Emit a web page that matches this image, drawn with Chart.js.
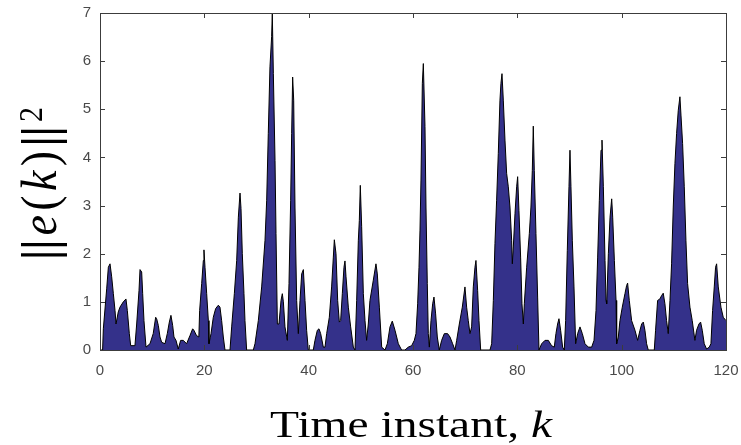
<!DOCTYPE html>
<html>
<head>
<meta charset="utf-8">
<script src="https://cdn.jsdelivr.net/npm/chart.js@4"></script>
<style>
  html, body { margin: 0; padding: 0; background: #fff; }
  #wrap { width: 741px; height: 445px; }
</style>
</head>
<body>
<div id="wrap"><canvas id="canvas" width="741" height="445"></canvas></div>
<script>
// time instants
const xs = [
  0, 0.5, 0.64, 1.28, 1.6, 1.92, 2.24, 2.56, 2.88, 3.07,
  3.5, 3.83, 4.47, 4.98, 5.24, 5.62, 5.88, 6.7, 7.03, 7.48,
  7.67, 7.99, 8.18, 8.43, 8.82, 9.58, 10.2, 10.67, 10.86, 11.18,
  11.5, 11.82, 12.46, 12.9, 13.29, 13.6, 13.93, 14.18, 14.57, 15.0,
  15.46, 15.97, 16.6, 17.25, 17.76, 18.0, 18.5, 18.95, 19.1, 19.49,
  19.81, 19.93, 20.13, 20.45, 20.77, 20.89, 21.28, 21.72, 22.17, 22.68,
  23.0, 23.32, 23.64, 23.96, 24.92, 25.24, 25.75, 26.2, 26.52, 26.84,
  27.03, 27.28, 27.6, 27.79, 28.11, 29.39, 29.71, 30.35, 30.99, 31.63,
  31.95, 32.26, 32.58, 32.9, 33.03, 33.23, 33.55, 33.74, 34.0, 34.31,
  34.7, 34.95, 35.15, 35.46, 35.91, 36.23, 36.55, 36.74, 36.93, 37.13,
  37.38, 37.7, 38.02, 38.34, 38.66, 38.98, 39.3, 39.61, 39.93, 40.89,
  41.21, 41.66, 41.98, 42.3, 42.81, 43.13, 43.45, 43.96, 44.4, 44.73,
  44.92, 45.24, 45.56, 45.88, 46.13, 46.45, 46.77, 46.96, 47.16, 47.6,
  48.05, 48.56, 48.88, 49.2, 49.52, 49.71, 49.9, 50.16, 50.48, 50.8,
  51.11, 51.43, 51.75, 52.39, 52.9, 53.16, 53.55, 54.0, 54.63, 55.08,
  55.59, 56.03, 56.55, 57.19, 57.82, 58.46, 59.1, 59.74, 60.25, 60.57,
  60.89, 61.15, 61.34, 61.53, 61.79, 61.98, 62.3, 62.49, 62.74, 62.93,
  63.13, 63.45, 63.77, 64.02, 64.34, 64.66, 65.04, 65.49, 66.0, 66.64,
  67.09, 67.6, 68.05, 68.37, 68.88, 69.45, 69.96, 70.28, 70.6, 70.92,
  71.24, 71.56, 71.88, 72.07, 72.39, 72.65, 72.97, 74.76, 75.08, 75.4,
  75.71, 76.03, 76.35, 76.67, 76.86, 77.06, 77.31, 77.63, 77.95, 78.27,
  78.59, 78.91, 79.04, 79.23, 79.55, 79.87, 80.06, 80.31, 80.63, 80.89,
  81.15, 81.34, 81.79, 82.3, 82.61, 82.87, 83.06, 83.25, 83.57, 83.89,
  84.15, 84.66, 85.3, 85.94, 86.57, 87.08, 87.4, 87.72, 87.98, 88.3,
  88.68, 89.0, 89.26, 89.58, 89.9, 90.09, 90.28, 90.54, 90.86, 91.18,
  91.56, 92.01, 92.46, 92.97, 93.61, 94.25, 94.7, 95.08, 95.4, 95.72,
  96.04, 96.23, 96.49, 96.81, 97.0, 97.13, 97.45, 97.77, 98.09, 98.28,
  98.6, 98.92, 99.04, 99.36, 99.67, 100.12, 100.63, 100.95, 101.14, 101.46,
  101.91, 102.55, 103.06, 103.51, 103.83, 104.15, 104.46, 104.78, 105.1, 106.25,
  106.5, 106.89, 107.33, 107.65, 107.97, 108.29, 108.61, 108.93, 109.26, 109.57,
  109.89, 110.21, 110.53, 110.85, 111.17, 111.37, 111.68, 112.0, 112.32, 112.64,
  113.09, 113.53, 114.04, 114.36, 114.81, 115.13, 115.45, 115.83, 116.28, 116.79,
  117.11, 117.43, 117.75, 118.0, 118.2, 118.52, 119.03, 119.47, 120
];

// ||e(k)||^2 at those instants
const ys = [
  0, 0, 0.44, 1.27, 1.72, 1.79, 1.52, 1.17, 0.82, 0.54,
  0.79, 0.89, 1.0, 1.06, 0.82, 0.34, 0.09, 0.09, 0.54, 1.24,
  1.67, 1.62, 1.17, 0.61, 0.06, 0.13, 0.34, 0.68, 0.65, 0.51,
  0.27, 0.16, 0.13, 0.34, 0.58, 0.72, 0.51, 0.27, 0.2, 0.02,
  0.2, 0.2, 0.13, 0.3, 0.44, 0.41, 0.3, 0.27, 0.82, 1.38,
  1.86, 2.08, 1.72, 1.17, 0.61, 0.13, 0.34, 0.68, 0.86, 0.93,
  0.89, 0.61, 0.27, 0, 0, 0.48, 1.17, 1.86, 2.76, 3.26,
  2.94, 2.0, 1.17, 0.61, 0, 0, 0.13, 0.61, 1.31, 2.28,
  3.11, 4.5, 5.88, 6.51, 7.0, 5.74, 3.94, 2.42, 0.54, 0.54,
  1.03, 1.17, 1.0, 0.48, 0.2, 1.38, 3.11, 4.5, 5.67, 5.19,
  2.97, 1.03, 0.34, 1.03, 1.58, 1.67, 1.03, 0.41, 0, 0,
  0.2, 0.41, 0.44, 0.34, 0.06, 0.06, 0.34, 0.68, 1.31, 1.93,
  2.29, 2.0, 1.03, 0.58, 0.61, 1.17, 1.72, 1.85, 1.52, 0.89,
  0.48, 0.06, 0, 1.03, 2.28, 2.69, 3.42, 2.56, 1.17, 0.61,
  0.2, 0.54, 1.03, 1.45, 1.79, 1.58, 0.89, 0.06, 0, 0.13,
  0.48, 0.6, 0.41, 0.13, 0, 0, 0.06, 0.09, 0.2, 0.34,
  0.96, 1.72, 2.49, 3.53, 5.54, 5.95, 4.64, 2.97, 1.38, 0.34,
  0.06, 0.61, 0.96, 1.1, 0.75, 0.27, 0, 0.2, 0.34, 0.34,
  0.27, 0.13, 0, 0.2, 0.54, 0.89, 1.31, 0.89, 0.61, 0.34,
  0.48, 1.31, 1.72, 1.86, 1.24, 0.61, 0, 0, 0.13, 1.03,
  2.21, 3.11, 4.08, 5.19, 5.54, 5.74, 5.19, 4.36, 3.67, 3.39,
  2.97, 2.28, 1.79, 2.14, 2.83, 3.39, 3.6, 2.9, 1.93, 0.96,
  0.54, 0.96, 1.72, 2.42, 2.97, 3.73, 4.65, 3.73, 2.42, 1.1,
  0, 0.13, 0.2, 0.2, 0.09, 0.06, 0.34, 0.54, 0.65, 0.41,
  0.06, 0, 0.61, 2.07, 3.39, 4.15, 3.39, 2.28, 1.31, 0.13,
  0.34, 0.48, 0.34, 0.13, 0.06, 0.06, 0.2, 0.82, 1.93, 3.11,
  4.15, 4.36, 3.39, 1.86, 1.03, 0.96, 2.0, 2.76, 3.14, 2.76,
  1.86, 1.03, 0.13, 0.27, 0.61, 0.89, 1.17, 1.34, 1.39, 1.03,
  0.61, 0.41, 0.2, 0.41, 0.54, 0.58, 0.41, 0.13, 0, 0,
  0.41, 1.03, 1.06, 1.13, 1.18, 0.96, 0.61, 0.34, 1.03, 1.79,
  2.97, 3.87, 4.5, 4.98, 5.26, 4.88, 4.29, 3.39, 2.28, 1.38,
  0.89, 0.61, 0.2, 0.41, 0.54, 0.58, 0.41, 0.13, 0.02, 0.06,
  0.13, 0.82, 1.31, 1.72, 1.79, 1.31, 0.89, 0.68, 0.61
];

const xTicks = [0, 20, 40, 60, 80, 100, 120];
const yTicks = [0, 1, 2, 3, 4, 5, 6, 7];

const points = xs.map((x, i) => ({ x: x, y: ys[i] }));

const axisColor = "#3c3c3c";
const tickFont = { family: "Liberation Sans, Arial, sans-serif", size: 15 };

// matlab style box, inward ticks on all four sides, and the two axis titles
const matlabBox = {
  id: "matlabBox",
  afterDatasetsDraw(chart) {
    const ctx = chart.ctx;
    const a = chart.chartArea;
    const sx = chart.scales.x, sy = chart.scales.y;
    ctx.save();
    ctx.strokeStyle = axisColor;
    ctx.lineWidth = 1;
    ctx.beginPath();
    xTicks.forEach(v => {
      const px = Math.round(sx.getPixelForValue(v)) + 0.5;
      ctx.moveTo(px, a.bottom); ctx.lineTo(px, a.bottom - 5);
      ctx.moveTo(px, a.top); ctx.lineTo(px, a.top + 5);
    });
    yTicks.forEach(v => {
      const py = Math.round(sy.getPixelForValue(v)) + 0.5;
      ctx.moveTo(a.left, py); ctx.lineTo(a.left + 5, py);
      ctx.moveTo(a.right, py); ctx.lineTo(a.right - 5, py);
    });
    ctx.stroke();
    ctx.strokeRect(Math.round(a.left) + 0.5, Math.round(a.top) + 0.5,
                   Math.round(a.right - a.left), Math.round(a.bottom - a.top));
    ctx.restore();
  },
  afterDraw(chart) {
    const ctx = chart.ctx;
    const serif = "Liberation Serif, 'Times New Roman', serif";
    ctx.save();
    ctx.fillStyle = "#000";
    ctx.textBaseline = "alphabetic";
    ctx.textAlign = "left";

    // x title: "Time instant, k"
    const xParts = [
      { t: "Time instant, ", f: "38px " + serif },
      { t: "k", f: "italic 38px " + serif }
    ];
    let w = 0;
    xParts.forEach(p => { ctx.font = p.f; p.w = ctx.measureText(p.t).width; w += p.w; });
    ctx.save();
    ctx.translate(411, 437);
    ctx.scale(1.25, 1);
    let cx = -w / 2;
    xParts.forEach(p => { ctx.font = p.f; ctx.fillText(p.t, cx, 0); cx += p.w; });
    ctx.restore();

    // y title: ||e(k)||^2, bars drawn a bit heavier like the math font
    const yParts = [
      { t: "||", f: "bold 46px " + serif, dy: 0 },
      { t: "e", f: "italic 46px " + serif, dy: 0 },
      { t: "(", f: "46px " + serif, dy: 0 },
      { t: "k", f: "italic 46px " + serif, dy: 0 },
      { t: ")", f: "46px " + serif, dy: 0 },
      { t: "||", f: "bold 46px " + serif, dy: 0 },
      { t: "2", f: "30px " + serif, dy: -13 }
    ];
    let yw = 0;
    yParts.forEach(p => { ctx.font = p.f; p.w = ctx.measureText(p.t).width; yw += p.w; });
    const gap = Math.max(0, (153 - yw) / (yParts.length - 1));
    ctx.save();
    ctx.translate(56, 260);
    ctx.rotate(-Math.PI / 2);
    ctx.scale(1, 1.1);
    let cy = 0;
    yParts.forEach(p => { ctx.font = p.f; ctx.fillText(p.t, cy, p.dy); cy += p.w + gap; });
    ctx.restore();

    ctx.restore();
  }
};

const chartConfig = {
  type: "line",
  data: {
    datasets: [{
      data: points,
      fill: "origin",
      backgroundColor: "#34318a",
      borderColor: "#000000",
      borderWidth: 1,
      pointRadius: 0,
      tension: 0
    }]
  },
  options: {
    responsive: false,
    animation: false,
    layout: { padding: { top: 13, right: 15, left: 0, bottom: 0 } },
    plugins: { legend: { display: false }, tooltip: { enabled: false } },
    scales: {
      x: {
        type: "linear",
        min: 0,
        max: 120,
        afterBuildTicks: s => { s.ticks = xTicks.map(v => ({ value: v })); },
        afterFit: s => { s.height = 95; s.paddingLeft = 0; s.paddingRight = 0; },
        grid: { display: false, drawTicks: false },
        border: { display: false },
        ticks: { color: "#4a4a4a", font: tickFont, padding: 12, maxRotation: 0 }
      },
      y: {
        type: "linear",
        min: 0,
        max: 7,
        afterBuildTicks: s => { s.ticks = yTicks.map(v => ({ value: v })); },
        afterFit: s => { s.width = 100; s.paddingTop = 0; s.paddingBottom = 0; },
        grid: { display: false, drawTicks: false },
        border: { display: false },
        ticks: { color: "#4a4a4a", font: tickFont, padding: 9 }
      }
    }
  },
  plugins: [matlabBox]
};

const myChart = new Chart(document.getElementById("canvas").getContext("2d"), chartConfig);
</script>
</body>
</html>
